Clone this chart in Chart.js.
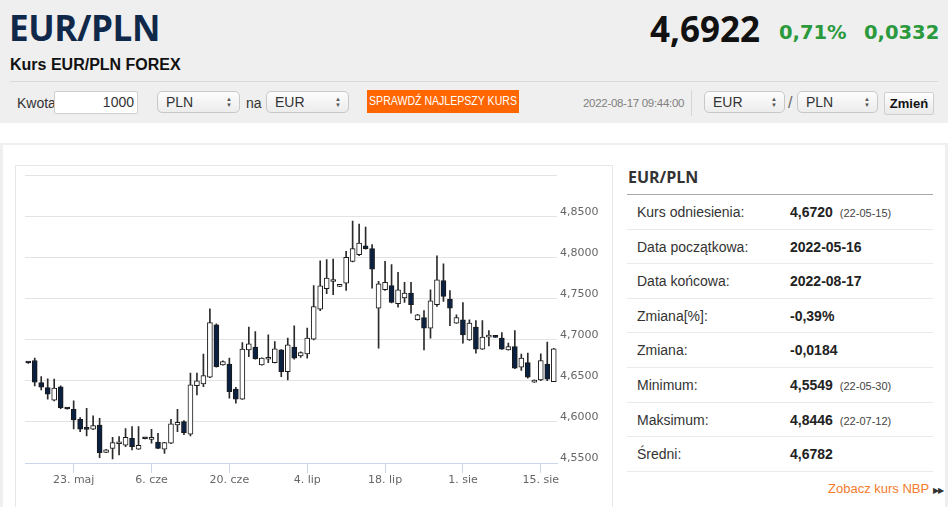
<!DOCTYPE html>
<html lang="pl">
<head>
<meta charset="utf-8">
<title>Kurs EUR/PLN FOREX</title>
<script src="https://cdn.jsdelivr.net/npm/chart.js@4.4.1/dist/chart.umd.min.js"></script>
<style>
  body { margin: 0; width: 948px; height: 507px; overflow: hidden; background: #efefef;
         font-family: "Liberation Sans", Arial, sans-serif; color: #333; position: relative; }
  .abs { position: absolute; white-space: nowrap; }
  #naglowek { position: absolute; left: 0; top: 0; width: 948px; height: 123px; background: #efefef; }
  #pas { position: absolute; left: 0; top: 123px; width: 948px; height: 20px; background: #fff; }
  #panel { position: absolute; left: 3px; top: 145px; width: 942px; height: 362px; background: #fff; }
  .wybor { position: absolute; height: 20px; border: 1px solid #c8c8c8; border-radius: 5px;
           background: linear-gradient(#fdfdfd, #ececec); font-size: 14px; line-height: 20px;
           box-sizing: content-box; }
  .wybor span.t { position: absolute; left: 8px; top: 0; }
  .wybor span.s { position: absolute; right: 7px; top: 4px; font-size: 6px; line-height: 6px; color: #555; text-align: center; }
  #wykres { position: absolute; left: 15px; top: 165px; width: 596px; height: 350px; border: 1px solid #e6e6e6; background: #fff; }
  #wykres canvas { position: absolute; left: 0; top: 0; }
  .wiersz { position: absolute; left: 627px; width: 306px; height: 34.6px; line-height: 34.6px;
            border-bottom: 1px solid #ebebeb; box-sizing: border-box; font-size: 14px; }
  .wiersz .n { position: absolute; left: 10px; color: #333; }
  .wiersz .w { position: absolute; left: 163px; font-weight: bold; color: #222; }
  .wiersz .d { font-weight: normal; font-size: 11px; color: #444; margin-left: 7px; }
</style>
</head>
<body>
<div id="naglowek">
  <div class="abs" style="left:9px; top:9px; font-family:'Open Sans'; font-weight:700; font-size:35px; line-height:37px; letter-spacing:-0.4px; color:#10284a;">EUR/PLN</div>
  <div class="abs" style="left:10px; top:55px; font-weight:bold; font-size:16px; line-height:20px; color:#111;">Kurs EUR/PLN FOREX</div>
  <div class="abs" style="left:650px; top:9px; font-family:'Open Sans'; font-weight:700; font-size:35px; line-height:40px; color:#111;">4,6922</div>
  <div class="abs" style="left:779px; top:21px; font-family:'DejaVu Sans'; font-weight:bold; font-size:19.5px; line-height:24px; color:#2a9a3c;">0,71%</div>
  <div class="abs" style="left:864px; top:21px; font-family:'DejaVu Sans'; font-weight:bold; font-size:19.5px; line-height:24px; color:#2a9a3c;">0,0332</div>
  <div class="abs" style="left:10px; top:81px; width:928px; height:1px; background:#d9d9d9;"></div>

  <div class="abs" style="left:17px; top:92px; font-size:14px; line-height:22px;">Kwota</div>
  <div class="abs" style="left:54px; top:91px; width:82px; height:21px; border:1px solid #cfcfcf; border-radius:2px; background:#fff; font-size:14px; line-height:21px; text-align:right;"><span style="padding-right:3px;">1000</span></div>
  <div class="wybor" style="left:157px; top:91px; width:81px;"><span class="t">PLN</span><span class="s">▲<br>▼</span></div>
  <div class="abs" style="left:246px; top:92px; font-size:14px; line-height:22px;">na</div>
  <div class="wybor" style="left:266px; top:91px; width:81px;"><span class="t">EUR</span><span class="s">▲<br>▼</span></div>
  <div class="abs" style="left:367px; top:90px; width:152px; height:23px; background:#ff6600; color:#fff; font-size:12px; line-height:23px; overflow:hidden;"><span style="position:absolute; left:50%; top:0; white-space:nowrap; transform:translateX(-50%) scaleX(0.88);">SPRAWDŹ NAJLEPSZY KURS</span></div>
  <div class="abs" style="left:583px; top:93px; font-size:11.5px; line-height:20px; color:#808080; letter-spacing:-0.3px;">2022-08-17 09:44:00</div>
  <div class="abs" style="left:691px; top:90px; width:1px; height:26px; background:#d6d6d6;"></div>
  <div class="wybor" style="left:704px; top:91px; width:79px;"><span class="t">EUR</span><span class="s">▲<br>▼</span></div>
  <div class="abs" style="left:788px; top:92px; font-size:16px; line-height:22px; color:#666;">/</div>
  <div class="wybor" style="left:797px; top:91px; width:79px;"><span class="t">PLN</span><span class="s">▲<br>▼</span></div>
  <div class="abs" style="left:884px; top:92px; width:48px; height:21px; border:1px solid #cfcfcf; border-radius:2px; background:linear-gradient(#ffffff,#e9e9e9); font-weight:bold; font-size:13px; line-height:22px; text-align:center; color:#111;">Zmień</div>
</div>
<div id="pas"></div>
<div id="panel"></div>

<div id="wykres"><canvas id="kurs" width="596" height="341"></canvas></div>

<div class="abs" style="left:628px; top:167px; font-family:'Open Sans'; font-weight:700; font-size:16px; line-height:20px; color:#333;">EUR/PLN</div>
<div class="abs" style="left:627px; top:194px; width:306px; height:1px; background:#a8a8a8;"></div>
<div id="tabela"></div>
<div class="abs" style="left:828px; top:480px; font-size:13px; line-height:18px; color:#f47a2c;">Zobacz kurs NBP <span style="font-size:8px; color:#333; letter-spacing:-1px;">▶▶</span></div>

<script>
// Notowania EUR/PLN, świece dzienne
const daty = [
  '2022-05-15','2022-05-16','2022-05-17','2022-05-18','2022-05-19','2022-05-20',
  '2022-05-22','2022-05-23','2022-05-24','2022-05-25','2022-05-26','2022-05-27',
  '2022-05-29','2022-05-30','2022-05-31','2022-06-01','2022-06-02','2022-06-03',
  '2022-06-05','2022-06-06','2022-06-07','2022-06-08','2022-06-09','2022-06-10',
  '2022-06-12','2022-06-13','2022-06-14','2022-06-15','2022-06-16','2022-06-17',
  '2022-06-19','2022-06-20','2022-06-21','2022-06-22','2022-06-23','2022-06-24',
  '2022-06-26','2022-06-27','2022-06-28','2022-06-29','2022-06-30','2022-07-01',
  '2022-07-03','2022-07-04','2022-07-05','2022-07-06','2022-07-07','2022-07-08',
  '2022-07-10','2022-07-11','2022-07-12','2022-07-13','2022-07-14','2022-07-15',
  '2022-07-17','2022-07-18','2022-07-19','2022-07-20','2022-07-21','2022-07-22',
  '2022-07-24','2022-07-25','2022-07-26','2022-07-27','2022-07-28','2022-07-29',
  '2022-07-31','2022-08-01','2022-08-02','2022-08-03','2022-08-04','2022-08-05',
  '2022-08-07','2022-08-08','2022-08-09','2022-08-10','2022-08-11','2022-08-12',
  '2022-08-14','2022-08-15','2022-08-16','2022-08-17'
];

const otwarcie = [
  4.6720, 4.6748, 4.6479, 4.6418, 4.6264, 4.6427,
  4.6170, 4.6155, 4.6033, 4.5913, 4.5911, 4.5963,
  4.5630, 4.5679, 4.5734, 4.5716, 4.5801, 4.5667,
  4.5797, 4.5788, 4.5756, 4.5667, 4.5740, 4.5963,
  4.6004, 4.5850, 4.6443, 4.6463, 4.6545, 4.7183,
  4.6695, 4.6704, 4.6399, 4.6277, 4.6878, 4.6911,
  4.6695, 4.6763, 4.6723, 4.6878, 4.6613, 4.6911,
  4.6805, 4.6829, 4.7008, 4.7374, 4.7622, 4.7710,
  4.7650, 4.7691, 4.7955, 4.8037, 4.8146, 4.8110,
  4.7387, 4.7610, 4.7662, 4.7439, 4.7509, 4.7570,
  4.7244, 4.7272, 4.7143, 4.7427, 4.7723, 4.7496,
  4.7204, 4.7244, 4.7000, 4.7155, 4.6887, 4.7032,
  4.7035, 4.7021, 4.6878, 4.6918, 4.6667, 4.6723,
  4.6484, 4.6512, 4.6704, 4.6491
];
const maksimum = [
  4.6726, 4.6777, 4.6553, 4.6524, 4.6521, 4.6439,
  4.6172, 4.6256, 4.6053, 4.6167, 4.6073, 4.6045,
  4.5665, 4.5813, 4.5821, 4.5918, 4.5943, 4.5943,
  4.5800, 4.5911, 4.5862, 4.5753, 4.6033, 4.6155,
  4.6016, 4.6594, 4.6594, 4.6826, 4.7378, 4.7195,
  4.6745, 4.6777, 4.6423, 4.6967, 4.7155, 4.7101,
  4.6780, 4.7061, 4.6979, 4.6880, 4.7021, 4.7171,
  4.6855, 4.7143, 4.7662, 4.7963, 4.7976, 4.7984,
  4.7660, 4.8077, 4.8446, 4.8411, 4.8374, 4.8159,
  4.7711, 4.7955, 4.7915, 4.7821, 4.7699, 4.7699,
  4.7310, 4.7357, 4.7610, 4.8024, 4.7927, 4.7601,
  4.7305, 4.7455, 4.7244, 4.7235, 4.7235, 4.7113,
  4.7036, 4.7089, 4.6960, 4.7113, 4.6826, 4.6838,
  4.6512, 4.6829, 4.6972, 4.6895
];
const minimum = [
  4.6714, 4.6439, 4.6390, 4.6277, 4.6256, 4.6162,
  4.6155, 4.5915, 4.5882, 4.5829, 4.5905, 4.5565,
  4.5625, 4.5549, 4.5598, 4.5699, 4.5659, 4.5665,
  4.5792, 4.5740, 4.5675, 4.5618, 4.5735, 4.5882,
  4.5845, 4.5829, 4.6329, 4.6431, 4.6540, 4.6667,
  4.6690, 4.6289, 4.6228, 4.6275, 4.6796, 4.6765,
  4.6690, 4.6723, 4.6720, 4.6552, 4.6512, 4.6765,
  4.6785, 4.6777, 4.7000, 4.7354, 4.7561, 4.7549,
  4.7648, 4.7601, 4.7950, 4.8024, 4.8105, 4.7630,
  4.6899, 4.7601, 4.7448, 4.7399, 4.7455, 4.7326,
  4.7240, 4.6878, 4.7021, 4.7406, 4.7467, 4.7171,
  4.7200, 4.6960, 4.6992, 4.6838, 4.6883, 4.6927,
  4.7029, 4.6883, 4.6875, 4.6650, 4.6626, 4.6533,
  4.6482, 4.6504, 4.6504, 4.6490
];
const zamkniecie = [
  4.6718, 4.6484, 4.6423, 4.6338, 4.6411, 4.6174,
  4.6158, 4.6024, 4.5911, 4.5909, 4.5955, 4.5626,
  4.5659, 4.5748, 4.5737, 4.5813, 4.5699, 4.5716,
  4.5795, 4.5791, 4.5679, 4.5748, 4.5976, 4.5996,
  4.5870, 4.6451, 4.6500, 4.6565, 4.7211, 4.6674,
  4.6735, 4.6370, 4.6277, 4.6887, 4.6951, 4.6768,
  4.6777, 4.6767, 4.6890, 4.6613, 4.6939, 4.6777,
  4.6845, 4.7021, 4.7406, 4.7659, 4.7752, 4.7712,
  4.7652, 4.8004, 4.8110, 4.8179, 4.8110, 4.7862,
  4.7683, 4.7699, 4.7455, 4.7610, 4.7570, 4.7427,
  4.7305, 4.7143, 4.7476, 4.7732, 4.7528, 4.7387,
  4.7272, 4.7061, 4.7204, 4.6887, 4.7033, 4.7035,
  4.7030, 4.6887, 4.6918, 4.6655, 4.6777, 4.6545,
  4.6509, 4.6748, 4.6521, 4.6890
];

// Etykiety osi X
const dniOsi = ['2022-05-23', '2022-06-06', '2022-06-20', '2022-07-04', '2022-07-18', '2022-08-01', '2022-08-15'];
const etykietyOsi = ['23. maj', '6. cze', '20. cze', '4. lip', '18. lip', '1. sie', '15. sie'];

// Tabela po prawej
const nazwyWierszy = ['Kurs odniesienia:', 'Data początkowa:', 'Data końcowa:', 'Zmiana[%]:', 'Zmiana:', 'Minimum:', 'Maksimum:', 'Średni:'];
const wartosciWierszy = ['4,6720', '2022-05-16', '2022-08-17', '-0,39%', '-0,0184', '4,5549', '4,8446', '4,6782'];
const datyWierszy = ['(22-05-15)', '', '', '', '', '(22-05-30)', '(22-07-12)', ''];

const tabela = document.getElementById('tabela');
nazwyWierszy.forEach((nazwa, i) => {
    const w = document.createElement('div');
    w.className = 'wiersz';
    w.style.top = (195 + i * 34.6) + 'px';
    w.innerHTML = '<span class="n"></span><span class="w"></span>';
    w.querySelector('.n').textContent = nazwa;
    const wart = w.querySelector('.w');
    wart.textContent = wartosciWierszy[i];
    if (datyWierszy[i]) {
        const d = document.createElement('span');
        d.className = 'd';
        d.textContent = datyWierszy[i];
        wart.appendChild(d);
    }
    tabela.appendChild(w);
});

const granatowy = '#0b2142';
const indeksyOsi = dniOsi.map(d => daty.indexOf(d));

const ctx = document.getElementById('kurs').getContext('2d');
new Chart(ctx, {
    type: 'bar',
    data: {
        labels: daty,
        datasets: [
            {
                label: 'Korpus',
                data: daty.map((d, i) => [otwarcie[i], zamkniecie[i]]),
                backgroundColor: otwarcie.map((o, i) => zamkniecie[i] >= o ? '#ffffff' : granatowy),
                borderColor: '#1a1a1a',
                borderWidth: 1,
                borderSkipped: false,
                barThickness: 5,
                minBarLength: 2,
                grouped: false,
                order: 0
            },
            {
                label: 'Knot',
                data: daty.map((d, i) => [minimum[i], maksimum[i]]),
                backgroundColor: '#2b2b2b',
                borderWidth: 0,
                barThickness: 1,
                minBarLength: 1,
                grouped: false,
                order: 1
            }
        ]
    },
    options: {
        responsive: false,
        maintainAspectRatio: false,
        animation: false,
        layout: { padding: { left: 9, top: 9, right: 0, bottom: 0 } },
        plugins: {
            legend: { display: false },
            tooltip: { enabled: false }
        },
        scales: {
            x: {
                offset: true,
                grid: {
                    offset: false,
                    drawOnChartArea: false,
                    drawTicks: true,
                    tickLength: 10,
                    color: '#ccd6eb'
                },
                border: { color: '#ccd6eb' },
                afterBuildTicks: function(scale) {
                    scale.ticks = scale.ticks.filter(t => indeksyOsi.includes(t.value));
                },
                afterFit: function(scale) { scale.height = 44; },
                ticks: {
                    autoSkip: false,
                    maxRotation: 0,
                    padding: 1,
                    color: '#666',
                    font: { family: 'DejaVu Sans', size: 11 },
                    callback: function(value) {
                        return etykietyOsi[indeksyOsi.indexOf(value)];
                    }
                }
            },
            y: {
                position: 'right',
                min: 4.55,
                max: 4.90,
                grid: { color: '#e3e3e3', drawTicks: false },
                border: { display: false },
                afterFit: function(scale) { scale.width = 55; },
                ticks: {
                    stepSize: 0.05,
                    padding: 3,
                    labelOffset: -5,
                    color: '#666',
                    font: { family: 'DejaVu Sans', size: 11 },
                    callback: function(value) {
                        if (value > 4.89) return '';
                        return value.toFixed(4).replace('.', ',');
                    }
                }
            }
        }
    }
});
</script>
</body>
</html>
